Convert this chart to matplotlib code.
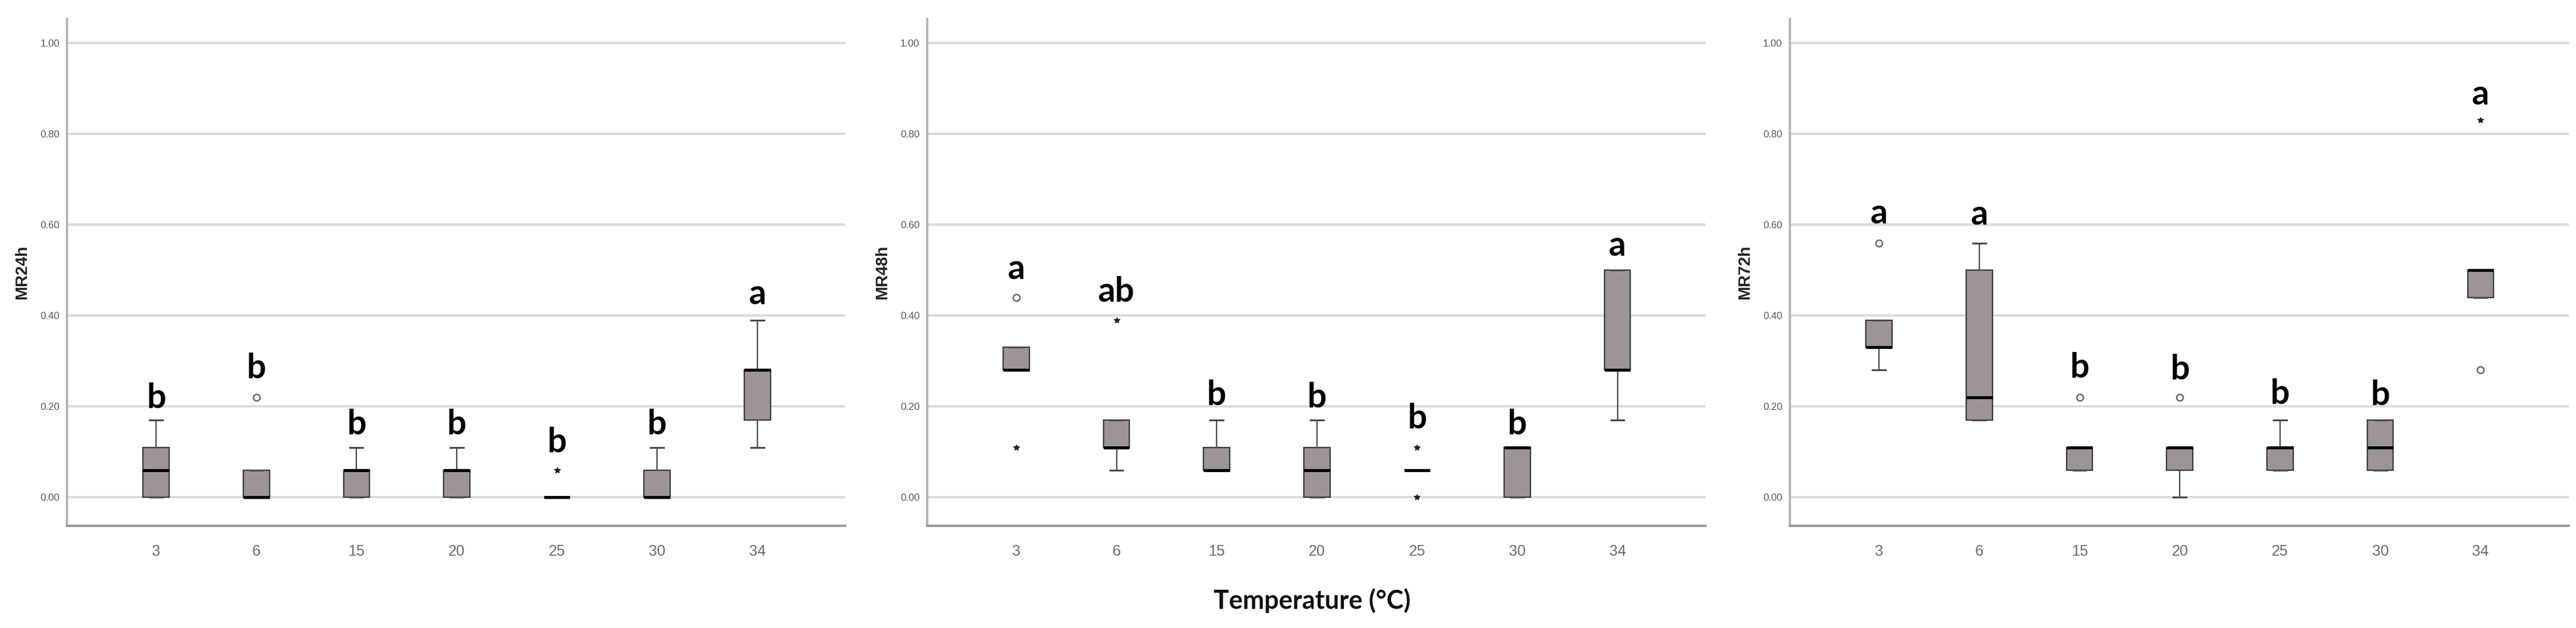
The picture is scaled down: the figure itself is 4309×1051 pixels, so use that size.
import matplotlib
matplotlib.use("Agg")
import matplotlib.pyplot as plt

# temperatures on the x axis
temps = ["3", "6", "15", "20", "25", "30", "34"]

# MR24h box stats
mr24_q1 = [0.00, 0.00, 0.00, 0.00, 0.00, 0.00, 0.17]
mr24_med = [0.06, 0.00, 0.06, 0.06, 0.00, 0.00, 0.28]
mr24_q3 = [0.11, 0.06, 0.06, 0.06, 0.00, 0.06, 0.28]
mr24_lo = [0.00, 0.00, 0.00, 0.00, 0.00, 0.00, 0.11]
mr24_hi = [0.17, 0.06, 0.11, 0.11, 0.00, 0.11, 0.39]
mr24_out = [[], [0.22], [], [], [], [], []]
mr24_ext = [[], [], [], [], [0.06], [], []]
mr24_letters = ["b", "b", "b", "b", "b", "b", "a"]
mr24_letter_y = [0.196, 0.262, 0.138, 0.138, 0.099, 0.138, 0.425]

# MR48h
mr48_q1 = [0.28, 0.11, 0.06, 0.00, 0.06, 0.00, 0.28]
mr48_med = [0.28, 0.11, 0.06, 0.06, 0.06, 0.11, 0.28]
mr48_q3 = [0.33, 0.17, 0.11, 0.11, 0.06, 0.11, 0.50]
mr48_lo = [0.28, 0.06, 0.06, 0.00, 0.06, 0.00, 0.17]
mr48_hi = [0.33, 0.17, 0.17, 0.17, 0.06, 0.11, 0.50]
mr48_out = [[0.44], [], [], [], [], [], []]
mr48_ext = [[0.11], [0.39], [], [], [0.11, 0.00], [], []]
mr48_letters = ["a", "ab", "b", "b", "b", "b", "a"]
mr48_letter_y = [0.48, 0.43, 0.203, 0.198, 0.152, 0.139, 0.532]

# MR72h
mr72_q1 = [0.33, 0.17, 0.06, 0.06, 0.06, 0.06, 0.44]
mr72_med = [0.33, 0.22, 0.11, 0.11, 0.11, 0.11, 0.50]
mr72_q3 = [0.39, 0.50, 0.11, 0.11, 0.11, 0.17, 0.50]
mr72_lo = [0.28, 0.17, 0.06, 0.00, 0.06, 0.06, 0.44]
mr72_hi = [0.39, 0.56, 0.11, 0.11, 0.17, 0.17, 0.50]
mr72_out = [[0.56], [], [0.22], [0.22], [], [], [0.28]]
mr72_ext = [[], [], [], [], [], [], [0.83]]
mr72_letters = ["a", "a", "b", "b", "b", "b", "a"]
mr72_letter_y = [0.603, 0.60, 0.263, 0.26, 0.205, 0.203, 0.865]

yticks = [0.0, 0.2, 0.4, 0.6, 0.8, 1.0]

BOX_FILL = "#9d9595"
EDGE = "#3a3a3a"


def draw_panel(ax, ylabel, q1, med, q3, lo, hi, outs, exts, letters, letter_y):
    stats = []
    for i in range(len(temps)):
        stats.append(dict(med=med[i], q1=q1[i], q3=q3[i],
                          whislo=lo[i], whishi=hi[i], fliers=[]))
    pos = list(range(len(temps)))
    ax.bxp(stats, positions=pos, widths=0.26, patch_artist=True,
           showfliers=False,
           boxprops=dict(facecolor=BOX_FILL, edgecolor=EDGE, linewidth=1.6),
           medianprops=dict(color="black", linewidth=3.6, solid_capstyle="butt"),
           whiskerprops=dict(color="#4a4a4a", linewidth=1.6),
           capprops=dict(color="#4a4a4a", linewidth=2.2),
           capwidths=0.13, zorder=3)

    # outliers (circles) and extremes (stars)
    for i in range(len(temps)):
        if outs[i]:
            ax.plot([i] * len(outs[i]), outs[i], "o", ms=8, mfc="white",
                    mec="#6a6a6a", mew=1.8, zorder=4)
        if exts[i]:
            ax.plot([i] * len(exts[i]), exts[i], "*", ms=7, color="#222222",
                    zorder=4)

    # significance letters
    for i in range(len(temps)):
        ax.text(i, letter_y[i], letters[i], ha="center", va="baseline",
                fontsize=41, fontweight="bold", family="Lato", color="black",
                zorder=5)

    ax.set_xlim(-0.89, 6.88)
    ax.set_ylim(-0.063, 1.053)
    ax.set_xticks(pos)
    ax.set_xticklabels(temps)
    ax.set_yticks(yticks)
    ax.set_yticklabels(["%.2f" % v for v in yticks])
    ax.tick_params(axis="y", length=0, pad=9, labelsize=12, labelcolor="#555555")
    ax.tick_params(axis="x", length=0, pad=22, labelsize=18, labelcolor="#6a6a6a")
    for lab in ax.get_xticklabels() + ax.get_yticklabels():
        lab.set_family(["Liberation Sans Narrow", "Liberation Sans"])

    ax.grid(axis="y", color="#dcdcdc", linewidth=3.0)
    ax.set_axisbelow(True)
    for s in ["top", "right"]:
        ax.spines[s].set_visible(False)
    ax.spines["left"].set_color("#b0b0b0")
    ax.spines["left"].set_linewidth(2.6)
    ax.spines["bottom"].set_color("#9a9a9a")
    ax.spines["bottom"].set_linewidth(2.8)

    ax.set_ylabel(ylabel, fontsize=20, fontweight="bold", family="Liberation Sans",
                  color="#222222", labelpad=12)


def main():
    fig = plt.figure(figsize=(43.09, 10.51), dpi=100)
    bottom = 0.1627
    height = 0.8069
    ax1 = fig.add_axes([0.0260, bottom, 0.3022, height])
    ax2 = fig.add_axes([0.3599, bottom, 0.3022, height])
    ax3 = fig.add_axes([0.6948, bottom, 0.3024, height])

    draw_panel(ax1, "MR24h", mr24_q1, mr24_med, mr24_q3, mr24_lo, mr24_hi,
               mr24_out, mr24_ext, mr24_letters, mr24_letter_y)
    draw_panel(ax2, "MR48h", mr48_q1, mr48_med, mr48_q3, mr48_lo, mr48_hi,
               mr48_out, mr48_ext, mr48_letters, mr48_letter_y)
    draw_panel(ax3, "MR72h", mr72_q1, mr72_med, mr72_q3, mr72_lo, mr72_hi,
               mr72_out, mr72_ext, mr72_letters, mr72_letter_y)

    fig.text(2195 / 4309, 1 - 1005 / 1051, "Temperature (°C)", ha="center",
             va="center", fontsize=31, fontweight="bold", family="Lato",
             color="#111111")

    fig.savefig("out.png", dpi=100)


if __name__ == "__main__":
    main()
